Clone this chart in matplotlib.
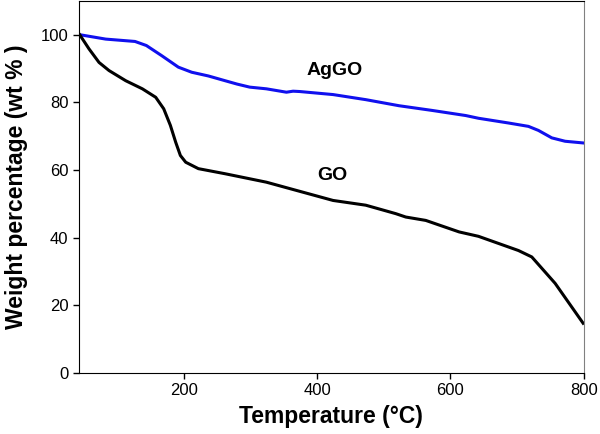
import numpy as np
import matplotlib.pyplot as plt

plt.rcParams['font.family'] = ['Liberation Sans', 'DejaVu Sans']

# AgGO curve
temp_aggo = [44, 83, 127, 144, 167, 192, 212, 237, 262, 280, 299, 324, 354, 364,
             374, 424, 473, 523, 573, 623, 642, 687, 717, 732, 752, 772, 799]
wt_aggo = [100, 98.7, 98, 96.8, 93.8, 90.4, 88.9, 87.8, 86.4, 85.4, 84.5, 84, 83, 83.3,
           83.2, 82.3, 80.8, 79, 77.6, 76.1, 75.3, 73.9, 72.9, 71.7, 69.5, 68.5, 68.0]

# GO curve
temp_go = [44, 58, 73, 88, 113, 138, 158, 170, 180, 188, 195, 203, 222, 262, 324, 374,
           424, 473, 518, 533, 563, 613, 642, 702, 722, 757, 799]
wt_go = [100, 95.8, 91.8, 89.4, 86.4, 84, 81.5, 78.1, 73.2, 68.2, 64.3, 62.3, 60.4, 58.9,
         56.4, 53.7, 51, 49.6, 47.1, 46.1, 45.1, 41.7, 40.4, 36.2, 34.3, 26.5, 14.7]

fig = plt.figure(figsize=(6, 4.34), dpi=100)
ax = fig.add_axes([0.1317, 0.1406, 0.8413, 0.8574])

ax.plot(temp_aggo, wt_aggo, color='#1010ee', linewidth=2.2, solid_joinstyle='round')
ax.plot(temp_go, wt_go, color='black', linewidth=2.2, solid_joinstyle='round')

ax.text(426, 89.4, 'AgGO', fontsize=14, fontweight='bold', ha='center', va='center')
ax.text(423, 58.4, 'GO', fontsize=14, fontweight='bold', ha='center', va='center')

ax.set_xlim(43, 800)
ax.set_ylim(0, 110)
ax.set_xticks([200, 400, 600, 800])
ax.set_yticks([0, 20, 40, 60, 80, 100])
ax.tick_params(direction='out', length=4, labelsize=12, width=1)
ax.spines['right'].set_color('#808080')

ax.set_xlabel('Temperature (°C)', fontsize=16.5, fontweight='bold', labelpad=5)
ax.set_ylabel('Weight percentage (wt % )', fontsize=16.5, fontweight='bold', labelpad=9)

fig.savefig('out.png', dpi=100)
